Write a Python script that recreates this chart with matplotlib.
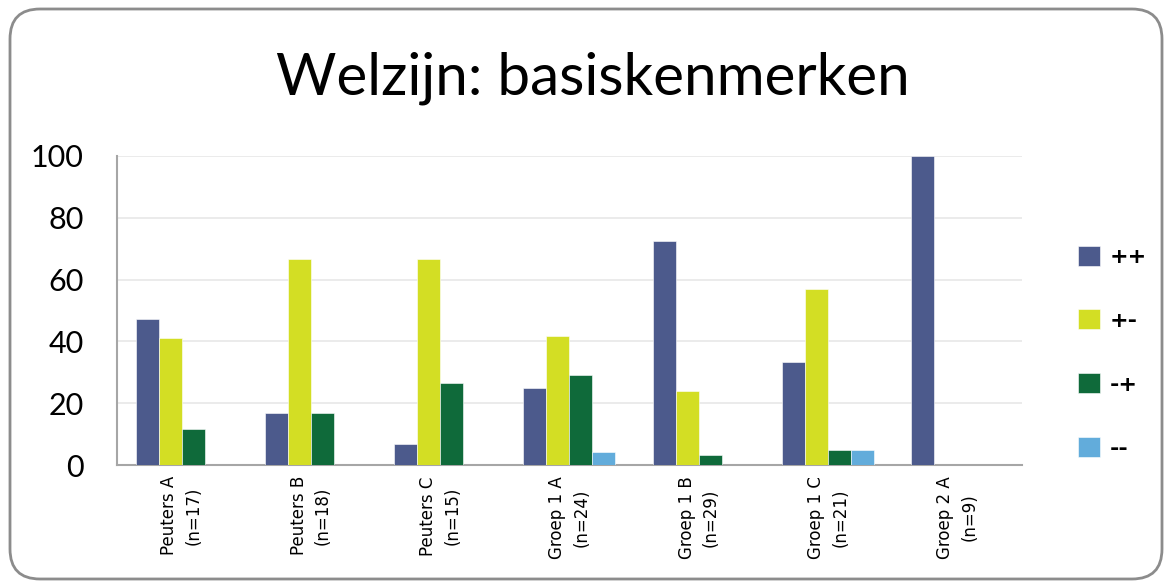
# encoding: utf-8

# Grouped bar chart "Welzijn: basiskenmerken" (percentages per group).

import matplotlib
matplotlib.use("Agg")
import matplotlib.pyplot as plt
from matplotlib.patches import FancyBboxPatch
from matplotlib.transforms import IdentityTransform
import numpy as np

groups = ["Peuters A\n(n=17)", "Peuters B\n(n=18)", "Peuters C\n(n=15)",
          "Groep 1 A\n(n=24)", "Groep 1 B\n(n=29)", "Groep 1 C\n(n=21)",
          "Groep 2 A\n(n=9)"]
series = ["++", "+-", "-+", "--"]
plus_plus = [47.1, 16.7, 6.7, 25.0, 72.4, 33.3, 100.0]
plus_min = [41.2, 66.7, 66.7, 41.7, 24.1, 57.1, 0.0]
min_plus = [11.8, 16.7, 26.7, 29.2, 3.4, 4.8, 0.0]
min_min = [0.0, 0.0, 0.0, 4.2, 0.0, 4.8, 0.0]
colors = ["#4c5a8c", "#d3de24", "#0f6a3a", "#62acdb"]

plt.rcParams['font.family'] = ['Lato', 'DejaVu Sans']

fig = plt.figure(figsize=(11.65, 5.82), dpi=100)

# rounded chart border (pixel coordinates), drawn below the axes
border = FancyBboxPatch((10, 3), 1152, 570,
                        boxstyle="round,pad=0,rounding_size=30",
                        transform=IdentityTransform(),
                        facecolor="white", edgecolor="#8c8c8c", linewidth=2,
                        zorder=-5)
fig.patches.append(border)

ax = fig.add_axes([0.1004, 0.201, 0.7768, 0.531])
ax.set_facecolor("none")

x = np.arange(len(groups))
width = 0.178
data = [plus_plus, plus_min, min_plus, min_min]
for i, (name, vals) in enumerate(zip(series, data)):
    offs = (i - 1.5) * width
    ax.bar(x + offs, vals, width, color=colors[i], label=name,
           edgecolor="#ffffff", linewidth=0.4, zorder=3)

ax.set_xlim(-0.5, len(groups) - 0.5)
ax.set_ylim(0, 100)
ax.set_yticks([0, 20, 40, 60, 80, 100])
ax.yaxis.grid(True, color="#e8e8e8", linewidth=1.2, zorder=0)
ax.set_axisbelow(True)
for s in ["top", "right"]:
    ax.spines[s].set_visible(False)
for s in ["left", "bottom"]:
    ax.spines[s].set_color("#a6a6a6")
    ax.spines[s].set_linewidth(1.5)
ax.tick_params(axis="y", length=0, pad=24, labelsize=22)
ax.tick_params(axis="x", length=0, pad=8)
ax.set_xticks(x)
ax.set_xticklabels(groups, rotation=90, fontsize=12, va="top",
                   linespacing=1.45, family=["DejaVu Sans"])

fig.text(0.509, 0.865, "Welzijn: basiskenmerken", ha="center", va="center",
         fontsize=42)

fig.legend(loc="center left", bbox_to_anchor=(0.925, 0.395), frameon=False,
           handlelength=1.0, handleheight=1.0, borderaxespad=0,
           labelspacing=1.9, handletextpad=0.45, borderpad=0,
           prop={"family": "DejaVu Sans", "weight": "bold", "size": 16})

fig.savefig("out.png", dpi=100)
